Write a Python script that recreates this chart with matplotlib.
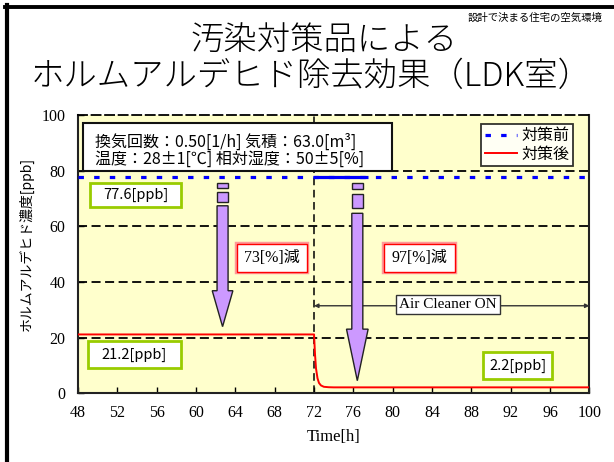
import matplotlib
matplotlib.use("Agg")
import matplotlib.pyplot as plt
from matplotlib.patches import Rectangle, Polygon
from matplotlib.lines import Line2D

# ---- data ----
time_before = [48, 100]
conc_before = [77.6, 77.6]
time_before_solid = [72, 77.5]

time_after = [48, 72, 72.1, 72.2, 72.35, 72.5, 72.7, 73.0, 73.5, 74.0, 100]
conc_after = [21.2, 21.2, 14.0, 9.0, 5.5, 3.8, 2.9, 2.4, 2.25, 2.2, 2.2]

x_ticks = list(range(48, 101, 4))
y_ticks = list(range(0, 101, 20))

switch_time = 72            # air cleaner switched on
level_before = 77.6
level_after_base = 21.2
level_after_cleaner = 2.2

# reduction arrows: x, pieces of the dashed tail (top, bottom), shaft top, head start, tip
arrow_specs = [
    dict(x=62.7, tail=[(75.5, 73.9), (72.5, 68.9)], shaft_top=67.4, head_start=36.9, tip=24.0,
         shaft_w=1.12, head_w=2.1),
    dict(x=76.4, tail=[(75.5, 73.4), (71.5, 66.7)], shaft_top=64.7, head_start=23.1, tip=4.6,
         shaft_w=1.12, head_w=2.2),
]

reduce_base = round((1 - level_after_base / level_before) * 100)
reduce_cleaner = round((1 - level_after_cleaner / level_before) * 100)

JP = ["Noto Sans CJK JP", "DejaVu Sans"]
SERIF = ["Liberation Serif", "Noto Sans CJK JP"]

plt.rcParams["font.family"] = JP

fig = plt.figure(figsize=(6.14, 4.62), dpi=100)
ax = fig.add_axes([0.127, 0.1483, 0.833, 0.6028])
ax.set_facecolor("#FFFFCC")

ax.set_xlim(48, 100)
ax.set_ylim(0, 100)

# grid
grid_ls = (0, (5, 2.5))
for yv in y_ticks[1:-1]:
    ax.axhline(yv, color="black", lw=1.3, ls=grid_ls, zorder=1)
ax.axvline(switch_time, color="black", lw=1.1, ls=(0, (5, 3)), zorder=1)

# series
ax.plot(time_before, conc_before, color="#0000FF", lw=2.3, ls=(0, (1.7, 3.2)),
        solid_capstyle="butt", dash_capstyle="butt", zorder=4, label="対策前")
ax.plot(time_before_solid, conc_before, color="#0000FF", lw=2.3, zorder=4,
        solid_capstyle="butt")
ax.plot(time_after, conc_after, color="#FF0000", lw=1.4, zorder=4, label="対策後")

# reduction arrows
for a in arrow_specs:
    x = a["x"]
    sw = a["shaft_w"] / 2
    hw = a["head_w"] / 2
    for top, bot in a["tail"]:
        ax.add_patch(Rectangle((x - sw, bot), 2 * sw, top - bot, facecolor="#CC99FF",
                               edgecolor="#222222", lw=1.0, zorder=6))
    pts = [(x - sw, a["shaft_top"]), (x + sw, a["shaft_top"]), (x + sw, a["head_start"]),
           (x + hw, a["head_start"]), (x, a["tip"]), (x - hw, a["head_start"]),
           (x - sw, a["head_start"])]
    ax.add_patch(Polygon(pts, closed=True, facecolor="#CC99FF", edgecolor="#222222",
                         lw=1.0, zorder=6))

# air cleaner span
ax.annotate("", xy=(switch_time, 31.5), xytext=(100, 31.5),
            arrowprops=dict(arrowstyle="<|-|>", color="#333333", lw=1.0,
                            mutation_scale=6, shrinkA=0, shrinkB=0), zorder=3)
ax.text(85.6, 32.0, "Air Cleaner ON", ha="center", va="center", fontsize=11,
        family=SERIF, zorder=7,
        bbox=dict(boxstyle="square,pad=0.2", facecolor="white", edgecolor="#333333", lw=1.0))


def boxed(cx, cy, w, h, text, edge, lw, size, family, glow=None):
    if glow:
        ax.add_patch(Rectangle((cx - w / 2, cy - h / 2), w, h, facecolor="white",
                               edgecolor=glow, lw=3.2, zorder=7))
    ax.add_patch(Rectangle((cx - w / 2, cy - h / 2), w, h, facecolor="white",
                           edgecolor=edge, lw=lw, zorder=7))
    ax.text(cx, cy, text, ha="center", va="center", fontsize=size, family=family, zorder=8)


# level labels
boxed(53.85, 71.2, 9.25, 8.6, f"{level_before}[ppb]", "#99CC00", 2.0, 10.5, JP)
boxed(53.7, 14.0, 9.45, 9.6, f"{level_after_base}[ppb]", "#99CC00", 2.0, 10.5, JP)
boxed(92.7, 10.05, 7.0, 9.6, f"{level_after_cleaner}[ppb]", "#99CC00", 2.0, 10.5, JP)

# reduction labels
boxed(67.74, 48.65, 7.1, 9.8, f"{reduce_base}[%]減", "#FF0000", 1.0, 11.5, SERIF, glow="#FF9999")
boxed(82.7, 48.65, 7.2, 9.8, f"{reduce_cleaner}[%]減", "#FF0000", 1.0, 11.5, SERIF, glow="#FF9999")

# condition box
ax.add_patch(Rectangle((48.54, 79.9), 31.36, 17.1, facecolor="white", edgecolor="#111111",
                       lw=1.5, zorder=7))
ax.text(49.7, 90.4, "換気回数：0.50[1/h] 気積：63.0[m³]", ha="left", va="center",
        fontsize=11.5, zorder=8)
ax.text(49.7, 84.1, "温度：28±1[℃] 相対湿度：50±5[%]", ha="left", va="center",
        fontsize=11.5, zorder=8)

# legend
leg = ax.legend(loc="upper right", bbox_to_anchor=(0.967, 0.968), borderaxespad=0,
                fontsize=11.5, frameon=True, fancybox=False, handlelength=2.0,
                handletextpad=0.3, borderpad=0.2, labelspacing=0.1)
leg.get_frame().set_edgecolor("black")
leg.get_frame().set_linewidth(1.3)
leg.set_zorder(9)

# spines & ticks
for s in ["left", "bottom", "right"]:
    ax.spines[s].set_color("#222222")
    ax.spines[s].set_linewidth(1.5)
ax.spines["top"].set_linestyle(grid_ls)
ax.spines["top"].set_linewidth(1.3)

ax.set_xticks(x_ticks)
ax.set_yticks(y_ticks)
ax.tick_params(direction="in", length=4, width=1, pad=9, labelsize=11.5)
for lab in ax.get_xticklabels() + ax.get_yticklabels():
    lab.set_family(SERIF)
ax.tick_params(axis="x", pad=8)

ax.set_xlabel("Time[h]", family=SERIF, fontsize=12, labelpad=6)
fig.text(26 / 614, 1 - 244 / 462, "ホルムアルデヒド濃度[ppb]", rotation=90,
         ha="center", va="center", fontsize=10)

# titles
fig.text(0.528, 0.913, "汚染対策品による", ha="center", va="center", fontsize=24,
         fontweight="light")
fig.text(0.5065, 0.833, "ホルムアルデヒド除去効果（LDK室）", ha="center", va="center",
         fontsize=24, fontweight="light")
fig.text(0.872, 0.961, "設計で決まる住宅の空気環境", ha="center", va="center", fontsize=7.5)

# page frame
fig.add_artist(Line2D([6.5 / 614, 6.5 / 614], [0, 1 - 5.3 / 462], color="black", lw=3.0,
                      transform=fig.transFigure, solid_capstyle="projecting"))
fig.add_artist(Line2D([5 / 614, 1], [1 - 7.2 / 462, 1 - 7.2 / 462], color="black", lw=2.8,
                      transform=fig.transFigure))

fig.savefig("out.png", dpi=100)
